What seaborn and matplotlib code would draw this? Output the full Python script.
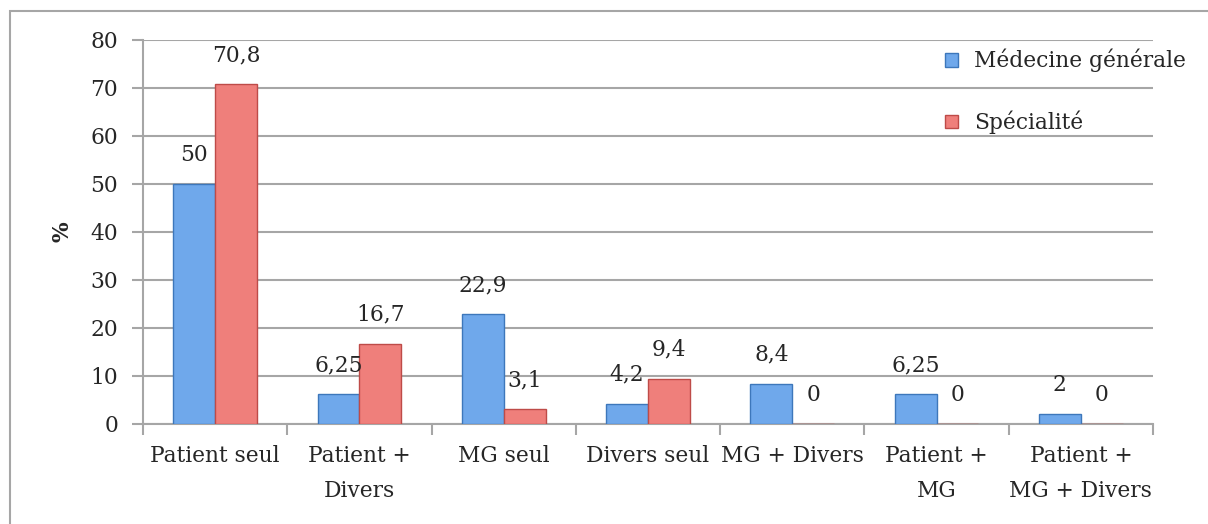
import numpy as np
import pandas as pd
import matplotlib as mpl
mpl.use('Agg')
import matplotlib.pyplot as plt
import seaborn as sns
from matplotlib.patches import Rectangle, Patch

categories = ['Patient seul', 'Patient +\nDivers', 'MG seul', 'Divers seul',
              'MG + Divers', 'Patient +\nMG', 'Patient +\nMG + Divers']
mg = [50, 6.25, 22.9, 4.2, 8.4, 6.25, 2]
spe = [70.8, 16.7, 3.1, 9.4, 0, 0, 0]
mg_labels = ['50', '6,25', '22,9', '4,2', '8,4', '6,25', '2']
spe_labels = ['70,8', '16,7', '3,1', '9,4', '0', '0', '0']
series = ['Médecine générale', 'Spécialité']
yticks = [0, 10, 20, 30, 40, 50, 60, 70, 80]

sns.set_style('white')
plt.rcParams['font.family'] = ['DejaVu Serif']
fs = 15.7

df = pd.DataFrame({
    'cat': categories * 2,
    'val': mg + spe,
    'serie': [series[0]] * len(mg) + [series[1]] * len(spe),
})

fig = plt.figure(figsize=(12.08, 5.24), dpi=100)
ax = fig.add_axes([143/1208, 1-424/524, (1153-143)/1208, 384/524])

blue = '#6FA8EB'
red = '#EF7F7B'
sns.barplot(data=df, x='cat', y='val', hue='serie', palette=[blue, red],
            width=0.58, ax=ax, legend=False, saturation=1, zorder=3)

edges = ['#3D77BB', '#BE4B48']
for cont, ec, labs in zip(ax.containers, edges, [mg_labels, spe_labels]):
    for p in cont:
        p.set_edgecolor(ec)
        p.set_linewidth(1.0)
    ax.bar_label(cont, labels=labs, padding=13, fontsize=fs)

ax.set_ylim(0, 80)
ax.set_xlim(-0.5, len(categories) - 0.5)
ax.set_yticks(yticks)
ax.yaxis.grid(True, color='#A6A6A6', lw=1.5, zorder=0)
ax.set_axisbelow(True)
for s in ['top', 'right']:
    ax.spines[s].set_visible(False)
for s in ['left', 'bottom']:
    ax.spines[s].set_color('#A6A6A6')
    ax.spines[s].set_linewidth(1.5)

ax.tick_params(axis='y', which='major', length=8, width=1.5, color='#A6A6A6',
               labelsize=fs, left=True, pad=10)
ax.tick_params(axis='x', which='major', length=0, labelsize=fs, pad=15)
for t in ax.get_xticklabels():
    t.set_linespacing(1.75)
ax.set_xticks(np.arange(-0.5, len(categories)), minor=True)
ax.tick_params(axis='x', which='minor', length=8, width=1.5, color='#A6A6A6', bottom=True)
ax.set_xlabel('')
ax.set_ylabel('%', fontsize=fs, fontweight='bold', labelpad=12)

handles = [Patch(facecolor=blue, edgecolor=edges[0]), Patch(facecolor=red, edgecolor=edges[1])]
fig.legend(handles, series, loc='upper left', bbox_to_anchor=(945/1208, 1-49/524),
           frameon=False, fontsize=fs, handlelength=0.6, handleheight=0.6,
           handletextpad=0.75, labelspacing=1.75, borderpad=0, borderaxespad=0)

fig.patches.append(Rectangle((10/1208, -0.1), 1.2, 1.1 - 11/524, transform=fig.transFigure,
                             fill=False, edgecolor='#A6A6A6', lw=1.5, zorder=0))

fig.savefig('out.png', dpi=100)
